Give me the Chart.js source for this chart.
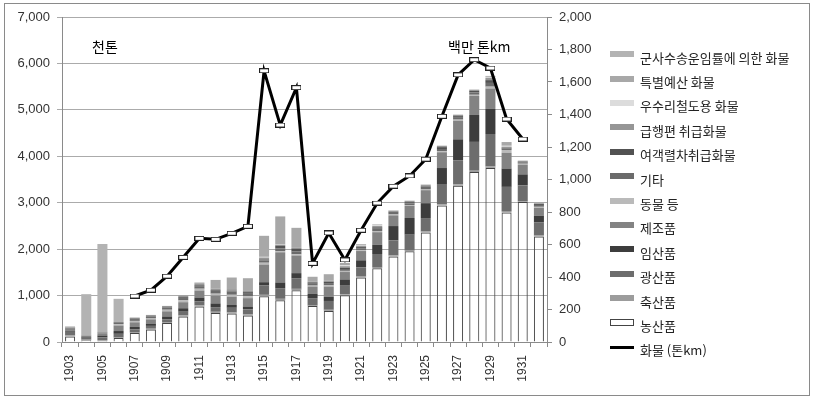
<!DOCTYPE html>
<html>
<head>
<meta charset="utf-8">
<script src="https://cdn.jsdelivr.net/npm/chart.js@4/dist/chart.umd.min.js"></script>
<style>
  body { margin: 0; background: #fff; }
  #wrap { width: 813px; height: 397px; position: relative; }
  #legenda { position: absolute; left: 610px; top: 45px; font: 13px 'Noto Sans CJK KR', sans-serif; color: #222; }
  .item { height: 24.4px; display: flex; align-items: center; white-space: nowrap; }
  .cx { display: inline-block; width: 24px; height: 6px; margin-right: 6px; position: relative; top: -3px; box-sizing: border-box; }
</style>
</head>
<body>
<div id="wrap"><canvas id="grafico" width="813" height="397"></canvas><div id="legenda"></div></div>
<script>
// anos
const anos = ['1903','1904','1905','1906','1907','1908','1909','1910','1911','1912',
  '1913','1914','1915','1916','1917','1918','1919','1920','1921','1922',
  '1923','1924','1925','1926','1927','1928','1929','1930','1931','1932'];

// 천톤 (stack, bottom -> top)
const nongsan   = [120,40,25,86,194,267,410,547,763,626,612,569,986,900,1115,775,669,1007,1389,1590,1842,1956,2360,2942,3365,3660,3750,2791,3013,2273];
const chuksan   = [20,10,15,20,20,20,20,25,25,25,25,25,30,30,30,20,25,20,20,25,25,25,20,25,30,30,30,30,20,20];
const gwangsan  = [80,40,60,70,60,60,60,80,90,100,100,110,200,230,230,150,190,200,200,280,320,330,290,420,520,620,700,520,340,280];
const imsan     = [20,15,40,60,50,50,60,75,80,80,60,60,72,122,108,90,90,120,150,200,310,360,320,360,450,580,540,395,237,144];
const jejo      = [60,30,50,120,100,90,110,130,150,170,180,180,380,650,380,160,220,160,200,270,230,260,280,340,400,410,440,340,210,170];
const dongmul   = [10,5,10,30,30,30,35,40,40,40,40,40,40,25,25,20,25,25,20,25,20,20,15,20,25,25,40,60,20,25];
const gita      = [20,10,20,40,40,36,40,50,55,60,70,70,50,60,60,40,50,40,40,50,35,35,35,50,40,50,80,30,25,40];
const yeogaek   = [0,0,0,0,12,10,12,18,18,16,16,20,20,60,65,30,30,30,25,30,25,25,30,40,35,35,60,20,20,25];
const geuphaeng = [0,0,0,0,20,20,30,35,30,30,36,40,40,20,15,20,20,30,30,30,20,25,30,25,25,20,50,20,15,10];
const usuri     = [0,0,0,0,0,0,0,0,0,0,0,0,16,10,0,0,0,20,15,15,7,7,10,7,8,7,20,20,6,5];
const teukbyeol = [0,0,0,0,0,0,0,0,30,190,250,260,453,598,431,100,141,52,18,17,7,7,10,7,7,7,21,81,7,6];
const gunsa     = [0,880,1890,504,0,0,0,0,0,0,0,0,0,0,0,0,0,0,0,0,0,0,0,0,0,0,0,0,0,0];

// 백만 톤km (right axis)
const hwamul = [null,null,null,null,283,319,405,521,638,632,669,712,1669,1335,1565,484,671,505,688,855,959,1022,1125,1389,1644,1737,1686,1372,1249,null];

const series = [
  { nome: '농산품', valores: nongsan, cor: 'rgba(255,255,255,0)' },
  { nome: '축산품', valores: chuksan, cor: '#9c9c9c' },
  { nome: '광산품', valores: gwangsan, cor: '#6d6d6d' },
  { nome: '임산품', valores: imsan, cor: '#3d3d3d' },
  { nome: '제조품', valores: jejo, cor: '#838383' },
  { nome: '동물 등', valores: dongmul, cor: '#bababa' },
  { nome: '기타', valores: gita, cor: '#6b6b6b' },
  { nome: '여객렬차취급화물', valores: yeogaek, cor: '#525252' },
  { nome: '급행편 취급화물', valores: geuphaeng, cor: '#969696' },
  { nome: '우수리철도용 화물', valores: usuri, cor: '#dcdcdc' },
  { nome: '특별예산 화물', valores: teukbyeol, cor: '#a8a8a8' },
  { nome: '군사수송운임률에 의한 화물', valores: gunsa, cor: '#b3b3b3' }
];
const nomeLinha = '화물 (톤km)';

// marcador da linha (retangulo branco com borda)
const marcador = document.createElement('canvas');
marcador.width = 10; marcador.height = 5;
const mg = marcador.getContext('2d');
mg.fillStyle = '#222'; mg.fillRect(0, 0, 10, 5);
mg.fillStyle = '#fff'; mg.fillRect(1, 1, 8, 3);

const datasets = series.map(s => ({
  type: 'bar',
  label: s.nome,
  data: s.valores,
  backgroundColor: s.cor,
  borderColor: '#444',
  borderWidth: s.nome === '농산품' ? 1 : 0,
  yAxisID: 'y',
  stack: 'carga',
  order: 1,
  categoryPercentage: 1,
  barPercentage: 0.62
}));
datasets.push({
  type: 'line',
  label: nomeLinha,
  data: hwamul,
  borderColor: '#000',
  borderWidth: 3,
  tension: 0,
  pointStyle: marcador,
  pointRadius: 4,
  yAxisID: 'y1',
  order: 0
});

// legenda em html (ordem inversa das barras, linha no fim)
const legenda = document.getElementById('legenda');
series.slice().reverse().forEach(s => {
  const branco = s.nome === '농산품';
  legenda.insertAdjacentHTML('beforeend',
    `<div class="item"><span class="cx" style="background:${branco ? '#fff' : s.cor};${branco ? 'border:1px solid #444;height:7px;' : ''}"></span>${s.nome}</div>`);
});
legenda.insertAdjacentHTML('beforeend',
  `<div class="item"><span class="cx" style="background:#000;height:3px;top:-2px"></span>${nomeLinha}</div>`);

const textos = {
  id: 'textos',
  afterDraw(chart) {
    const ctx = chart.ctx;
    ctx.save();
    ctx.fillStyle = '#000';
    ctx.font = "14px 'Noto Sans CJK KR'";
    ctx.textBaseline = 'middle';
    ctx.fillText('천톤', 92, 47);
    ctx.fillText('백만 톤km', 448, 47);
    ctx.strokeStyle = '#8a8a8a';
    ctx.lineWidth = 1;
    ctx.strokeRect(4.5, 3.5, 805, 392);
    ctx.restore();
  }
};

const numero = v => v.toLocaleString('en-US');

new Chart(document.getElementById('grafico'), {
  data: { labels: anos, datasets },
  options: {
    responsive: false,
    animation: false,
    layout: { padding: { top: 4, right: 214, bottom: 0, left: 0 } },
    plugins: {
      tooltip: { enabled: false },
      legend: { display: false }
    },
    scales: {
      x: {
        stacked: true,
        grid: { display: true, drawOnChartArea: false, offset: true, tickLength: 5, color: '#8a8a8a' },
        border: { color: '#8a8a8a' },
        ticks: {
          autoSkip: false, minRotation: 90, maxRotation: 90, padding: 8,
          color: '#333', font: { family: "'Liberation Sans'", size: 12 },
          callback: (v, i) => i % 2 === 0 ? anos[i] : ''
        },
        afterFit: s => { s.height = 55; }
      },
      y: {
        stacked: true,
        position: 'left',
        min: 0, max: 7000,
        grid: { color: '#ababab', tickLength: 5 },
        border: { color: '#8a8a8a' },
        ticks: {
          stepSize: 1000, padding: 7, color: '#333',
          font: { family: "'Liberation Sans'", size: 13 },
          callback: v => numero(v)
        },
        afterFit: s => { s.width = 62; s.paddingTop = 17; }
      },
      y1: {
        position: 'right',
        min: 0, max: 2000,
        grid: { drawOnChartArea: false, tickLength: 5, color: '#8a8a8a' },
        border: { color: '#8a8a8a' },
        ticks: {
          stepSize: 200, padding: 7, color: '#333',
          font: { family: "'Liberation Sans'", size: 13 },
          callback: v => numero(v)
        },
        afterFit: s => { s.width = 52; }
      }
    }
  },
  plugins: [textos]
});
</script>
</body>
</html>
